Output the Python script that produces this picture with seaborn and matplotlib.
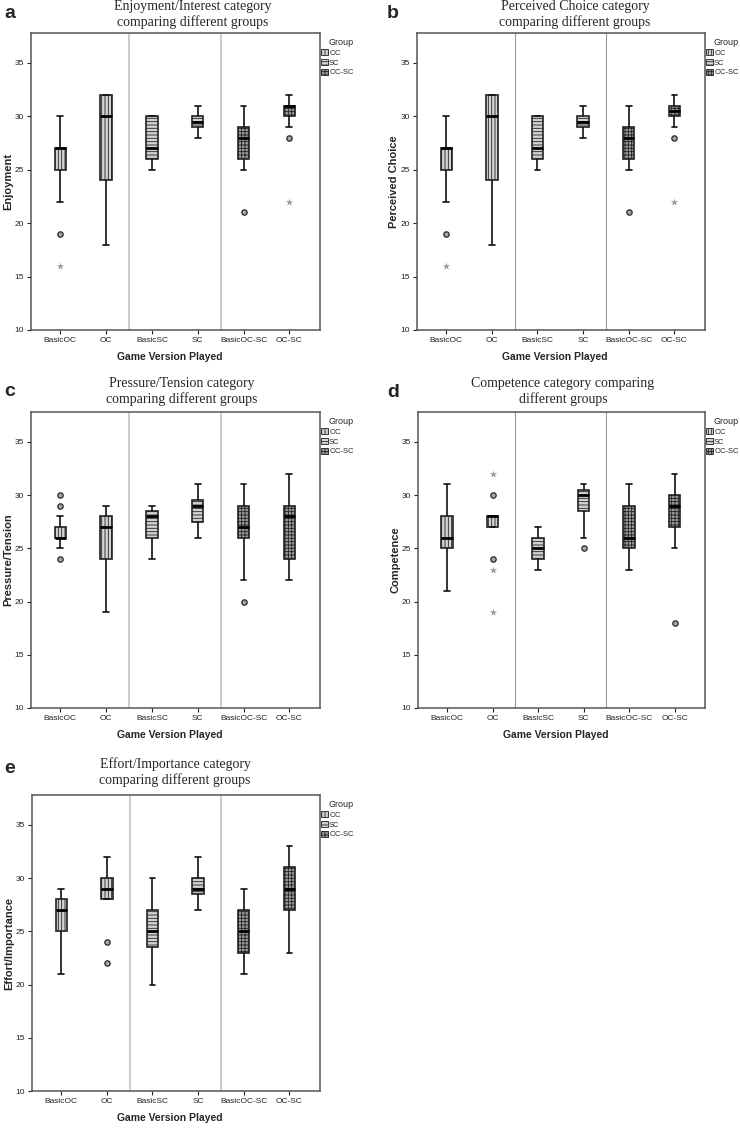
import numpy as np
import pandas as pd
import matplotlib.pyplot as plt
from matplotlib.patches import Patch
import seaborn as sns

sns.set_style("white")
plt.rcParams['font.family'] = ['Liberation Sans', 'DejaVu Sans']
plt.rcParams['hatch.linewidth'] = 0.6
plt.rcParams['hatch.color'] = '#303030'

versions = ['BasicOC', 'OC', 'BasicSC', 'SC', 'BasicOC-SC', 'OC-SC']
version_group = ['OC', 'OC', 'SC', 'SC', 'OC-SC', 'OC-SC']
group_names = ['OC', 'SC', 'OC-SC']

# a - Enjoyment/Interest
enjoy_low = [22, 18, 25, 28, 25, 29]
enjoy_q1 = [25, 24, 26, 29, 26, 30]
enjoy_med = [27, 30, 27, 29.5, 28, 31]
enjoy_q3 = [27, 32, 30, 30, 29, 31]
enjoy_high = [30, 32, 30, 31, 31, 32]
enjoy_circles = [('BasicOC', 19), ('BasicOC-SC', 21), ('OC-SC', 28)]
enjoy_stars = [('BasicOC', 16), ('OC-SC', 22)]

# b - Perceived Choice
choice_low = [22, 18, 25, 28, 25, 29]
choice_q1 = [25, 24, 26, 29, 26, 30]
choice_med = [27, 30, 27, 29.5, 28, 30.5]
choice_q3 = [27, 32, 30, 30, 29, 31]
choice_high = [30, 32, 30, 31, 31, 32]
choice_circles = [('BasicOC', 19), ('BasicOC-SC', 21), ('OC-SC', 28)]
choice_stars = [('BasicOC', 16), ('OC-SC', 22)]

# c - Pressure/Tension
press_low = [25, 19, 24, 26, 22, 22]
press_q1 = [26, 24, 26, 27.5, 26, 24]
press_med = [26, 27, 28, 29, 27, 28]
press_q3 = [27, 28, 28.5, 29.5, 29, 29]
press_high = [28, 29, 29, 31, 31, 32]
press_circles = [('BasicOC', 30), ('BasicOC', 29), ('BasicOC', 24), ('BasicOC-SC', 20)]
press_stars = []

# d - Competence
comp_low = [21, 27, 23, 26, 23, 25]
comp_q1 = [25, 27, 24, 28.5, 25, 27]
comp_med = [26, 28, 25, 30, 26, 29]
comp_q3 = [28, 28, 26, 30.5, 29, 30]
comp_high = [31, 28, 27, 31, 31, 32]
comp_circles = [('OC', 30), ('OC', 24), ('SC', 25), ('OC-SC', 18)]
comp_stars = [('OC', 32), ('OC', 23), ('OC', 19)]

# e - Effort/Importance
effort_low = [21, 28, 20, 27, 21, 23]
effort_q1 = [25, 28, 23.5, 28.5, 23, 27]
effort_med = [27, 29, 25, 29, 25, 29]
effort_q3 = [28, 30, 27, 30, 27, 31]
effort_high = [29, 32, 30, 32, 29, 33]
effort_circles = [('OC', 24), ('OC', 22)]
effort_stars = []

group_fill = {'OC': '#d2d2d2', 'SC': '#d2d2d2', 'OC-SC': '#9c9c9c'}
group_hatch = {'OC': '|||||', 'SC': '-----', 'OC-SC': '+++++'}

W, H = 740, 1128


def fig_rect(left, top, right, bottom):
    return [left / W, (H - bottom) / H, (right - left) / W, (bottom - top) / H]


def draw_panel(fig, rect, letter, letter_xy, title, title_xy, ylabel,
               stats, circles, stars, divider_color, divider_lw):
    ax = fig.add_axes(fig_rect(*rect))

    rows = []
    for i, v in enumerate(versions):
        for s in stats:
            rows.append({'version': v, 'value': s[i]})
    df = pd.DataFrame(rows)

    sns.boxplot(data=df, x='version', y='value', order=versions,
                whis=np.inf, width=0.25, color='#d2d2d2',
                linecolor='#111111', linewidth=1.2, showfliers=False,
                medianprops={'linewidth': 2.0, 'color': '#000000'},
                saturation=1, ax=ax)

    for i, patch in enumerate(ax.patches):
        g = version_group[i]
        patch.set_facecolor(group_fill[g])
        patch.set_hatch(group_hatch[g])
        patch.set_edgecolor('#222222')

    if circles:
        sns.stripplot(x=[c[0] for c in circles], y=[c[1] for c in circles],
                      order=versions, jitter=False, marker='o', size=3.8,
                      color='#a8a8a8', edgecolor='#333333', linewidth=1.0,
                      ax=ax, zorder=5)
    if stars:
        sns.stripplot(x=[s[0] for s in stars], y=[s[1] for s in stars],
                      order=versions, jitter=False, marker='*', size=5.5,
                      color='#9a9a9a', linewidth=0, ax=ax, zorder=5)

    for xv in (1.5, 3.5):
        ax.axvline(xv, color=divider_color, lw=divider_lw, zorder=0)

    ax.set_xlim(-0.64, 5.67)
    ax.set_ylim(10, 37.8)
    ax.set_yticks([10, 15, 20, 25, 30, 35])
    ax.tick_params(axis='both', direction='out', length=3, width=0.8,
                   pad=2, labelsize=6, colors='#222222', bottom=True, left=True)
    for sp in ax.spines.values():
        sp.set_color('#555555')
        sp.set_linewidth(1.1)

    ax.set_xlabel('Game Version Played', fontsize=7.5, fontweight='bold')
    ax.set_ylabel(ylabel, fontsize=8, fontweight='bold')
    ax.xaxis.set_label_coords(0.48, -0.075)
    ax.yaxis.set_label_coords(-0.062, 0.5)

    handles = [Patch(facecolor=group_fill[g], edgecolor='#222222',
                     hatch=group_hatch[g], linewidth=0.6, label=g)
               for g in group_names]
    leg = ax.legend(handles=handles, loc='upper left',
                    bbox_to_anchor=(1.0, 0.985), borderaxespad=0.1,
                    borderpad=0, handlelength=0.9, handleheight=0.9,
                    handletextpad=0.2, labelspacing=0.25, frameon=False,
                    fontsize=5.5, title='Group', title_fontsize=6.5)
    leg._legend_box.align = 'right'

    fig.text(letter_xy[0] / W, 1 - letter_xy[1] / H, letter, fontsize=14,
             fontweight='bold', va='baseline', ha='left')
    fig.text(title_xy[0] / W, 1 - title_xy[1] / H, title, fontsize=10,
             family=['Liberation Serif', 'DejaVu Serif'], va='baseline',
             ha='center', linespacing=1.2)
    return ax


fig = plt.figure(figsize=(W / 100, H / 100), dpi=100)

draw_panel(fig, (31, 33, 320, 330), 'a', (4, 18),
           'Enjoyment/Interest category\ncomparing different groups', (193, 26),
           'Enjoyment',
           [enjoy_low, enjoy_q1, enjoy_med, enjoy_q3, enjoy_high],
           enjoy_circles, enjoy_stars, '#c4c4c4', 1.2)

draw_panel(fig, (417, 33, 705, 330), 'b', (387, 18),
           'Perceived Choice category\ncomparing different groups', (575, 26),
           'Perceived Choice',
           [choice_low, choice_q1, choice_med, choice_q3, choice_high],
           choice_circles, choice_stars, '#999999', 0.8)

draw_panel(fig, (31, 412, 320, 708), 'c', (4, 396),
           'Pressure/Tension category\ncomparing different groups', (182, 403),
           'Pressure/Tension',
           [press_low, press_q1, press_med, press_q3, press_high],
           press_circles, press_stars, '#c4c4c4', 1.2)

draw_panel(fig, (418, 412, 705, 708), 'd', (387, 397),
           'Competence category comparing\ndifferent groups', (563, 403),
           'Competence',
           [comp_low, comp_q1, comp_med, comp_q3, comp_high],
           comp_circles, comp_stars, '#999999', 0.8)

draw_panel(fig, (32, 795, 320, 1091), 'e', (4, 773),
           'Effort/Importance category\ncomparing different groups', (175, 784),
           'Effort/Importance',
           [effort_low, effort_q1, effort_med, effort_q3, effort_high],
           effort_circles, effort_stars, '#c4c4c4', 1.2)

fig.savefig('out.png', dpi=100)
